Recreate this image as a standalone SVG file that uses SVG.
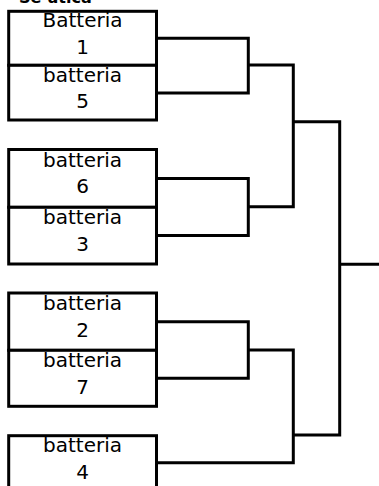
<svg xmlns="http://www.w3.org/2000/svg" width="379" height="486" viewBox="0 0 379 486">
<style>
.box{fill:#fff;stroke:#000;stroke-width:3}
.lbl{font-family:"DejaVu Sans",Verdana,sans-serif;font-size:20px;fill:#000;text-anchor:middle}
.title{font-family:"DejaVu Sans",Verdana,sans-serif;font-size:16px;font-weight:bold;fill:#000}
.conn{fill:none;stroke:#000;stroke-width:3;stroke-linejoin:miter}
</style>
<rect width="379" height="486" fill="#fff"/>
<text class="title" x="19" y="3">Se utica</text>
<g id="connectors">
<path class="conn" d="M156.5,38.3H248.3V93H156.5"/>
<path class="conn" d="M248.3,65H293.3V206.7H248.3"/>
<path class="conn" d="M156.5,178.4H248.3V235.6H156.5"/>
<path class="conn" d="M156.5,321.7H248.3V378.3H156.5"/>
<path class="conn" d="M248.3,350H293.3V462.7H156.5"/>
<path class="conn" d="M293.3,121.7H339.7V435H293.3"/>
<path class="conn" d="M339.7,264.3H379"/>
</g>
<g id="n1"><rect class="box" x="8.7" y="11.3" width="147.8" height="54"/><text class="lbl" x="82.5" y="26.7">Batteria</text><text class="lbl" x="82.5" y="53.5">1</text></g>
<g id="n5"><rect class="box" x="8.7" y="65.3" width="147.8" height="54.7"/><text class="lbl" x="82.5" y="81.5">batteria</text><text class="lbl" x="82.5" y="108">5</text></g>
<g id="n6"><rect class="box" x="8.7" y="149.5" width="147.8" height="57.8"/><text class="lbl" x="82.5" y="166.7">batteria</text><text class="lbl" x="82.5" y="193">6</text></g>
<g id="n3"><rect class="box" x="8.7" y="207.3" width="147.8" height="56.7"/><text class="lbl" x="82.5" y="223.5">batteria</text><text class="lbl" x="82.5" y="251">3</text></g>
<g id="n2"><rect class="box" x="8.7" y="293" width="147.8" height="57.3"/><text class="lbl" x="82.5" y="309.5">batteria</text><text class="lbl" x="82.5" y="337">2</text></g>
<g id="n7"><rect class="box" x="8.7" y="350.3" width="147.8" height="56"/><text class="lbl" x="82.5" y="366.5">batteria</text><text class="lbl" x="82.5" y="393.5">7</text></g>
<g id="n4"><rect class="box" x="8.7" y="435.7" width="147.8" height="54"/><text class="lbl" x="82.5" y="451.5">batteria</text><text class="lbl" x="82.5" y="479">4</text></g>
</svg>
